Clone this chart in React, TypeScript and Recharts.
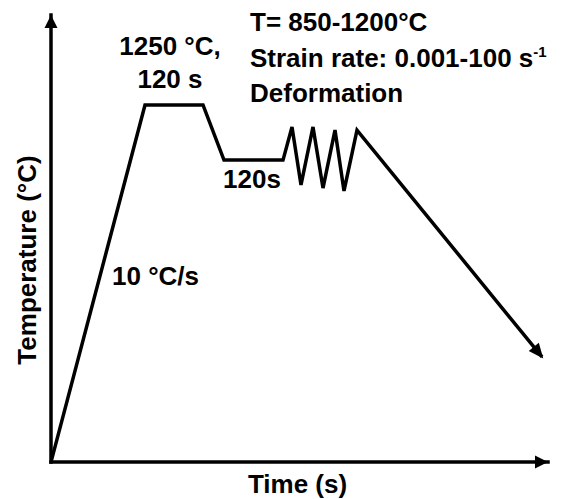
import { LineChart, Line, XAxis, YAxis, ReferenceDot } from "recharts";

// schematic thermal cycle, time in arbitrary units, temperature in °C
const timeSteps = [0, 94, 152, 173, 232, 241, 250, 262, 272, 284, 293, 306, 491];
const temperatures = [0, 1250, 1250, 1057, 1057, 1173, 970, 1173, 959, 1162, 949, 1162, 368];

const timeMax = 497;
const tempMax = 1565;

const conditionLines = ["T= 850-1200°C", "Strain rate: 0.001-100 s", "Deformation"];
const soakLines = ["1250 °C,", "120 s"];
const holdText = "120s";
const rateText = "10 °C/s";

const profile = timeSteps.map((t, i) => ({ t, temp: temperatures[i] }));

const FONT = '"Liberation Sans", Arial, sans-serif';
const textStyle = { fontFamily: FONT, fontWeight: 700, fontSize: 26, fill: "#000" };

const upArrow = (p: any) => (
	<path d={`M${p.cx},${p.cy} L${p.cx - 6.5},${p.cy + 13} L${p.cx + 6.5},${p.cy + 13} Z`} fill="#000" />
);

const rightArrow = (p: any) => (
	<path d={`M${p.cx},${p.cy} L${p.cx - 13},${p.cy - 6.5} L${p.cx - 13},${p.cy + 6.5} Z`} fill="#000" />
);

export default function App() {
	let prevPt: { x: number; y: number } | null = null;

	// arrow head on the last point of the cooling line
	const renderDot = (p: any) => {
		const pts = p.points;
		const prev = pts && pts[p.index - 1] ? { x: pts[p.index - 1].x, y: pts[p.index - 1].y } : prevPt;
		prevPt = { x: p.cx, y: p.cy };
		if (p.index !== profile.length - 1 || !prev) return <g key={`dot-${p.index}`} />;
		const ang = Math.atan2(p.cy - prev.y, p.cx - prev.x);
		const tipX = p.cx + 2 * Math.cos(ang);
		const tipY = p.cy + 2 * Math.sin(ang);
		const bx = tipX - 15 * Math.cos(ang);
		const by = tipY - 15 * Math.sin(ang);
		const nx = -Math.sin(ang) * 6.5;
		const ny = Math.cos(ang) * 6.5;
		return (
			<path
				key={`dot-${p.index}`}
				d={`M${tipX},${tipY} L${bx + nx},${by + ny} L${bx - nx},${by - ny} Z`}
				fill="#000"
			/>
		);
	};

	return (
		<div style={{ width: 563, height: 499, background: "#fff" }}>
			<style>{"body{margin:0}"}</style>
			<LineChart width={563} height={499} data={profile} margin={{ top: 15, right: 15, bottom: 0, left: 0 }}>
				<XAxis
					type="number"
					dataKey="t"
					domain={[0, timeMax]}
					allowDataOverflow
					height={37}
					tick={false}
					tickLine={false}
					axisLine={{ stroke: "#000", strokeWidth: 3.5, strokeLinecap: "square" }}
					label={{
						content: (props: any) => {
							const vb = props.viewBox;
							return (
								<text x={vb.x + 246.5} y={vb.y + 31} textAnchor="middle" style={textStyle}>
									Time (s)
								</text>
							);
						},
					}}
				/>
				<YAxis
					type="number"
					domain={[0, tempMax]}
					allowDataOverflow
					width={51}
					tick={false}
					tickLine={false}
					axisLine={{ stroke: "#000", strokeWidth: 3.5, strokeLinecap: "square" }}
					label={{
						content: (props: any) => {
							const vb = props.viewBox;
							const x = vb.x + 36;
							const y = vb.y + 245;
							return (
								<text x={x} y={y} textAnchor="middle" transform={`rotate(-90 ${x} ${y})`} style={textStyle}>
									Temperature (°C)
								</text>
							);
						},
					}}
				/>
				<Line
					type="linear"
					dataKey="temp"
					stroke="#000"
					strokeWidth={3.5}
					strokeLinejoin="miter"
					dot={renderDot}
					activeDot={false}
					isAnimationActive={false}
				/>
				<ReferenceDot x={0} y={tempMax} r={0} shape={upArrow} ifOverflow="visible" />
				<ReferenceDot x={timeMax} y={0} r={0} shape={rightArrow} ifOverflow="visible" />

				<text x={250} y={31} style={textStyle}>{conditionLines[0]}</text>
				<text x={250} y={67} style={textStyle}>
					{conditionLines[1]}
					<tspan dy={-10} fontSize={15}>-1</tspan>
				</text>
				<text x={250} y={102} style={textStyle}>{conditionLines[2]}</text>
				<text x={170} y={55} textAnchor="middle" style={textStyle}>{soakLines[0]}</text>
				<text x={170} y={88} textAnchor="middle" style={textStyle}>{soakLines[1]}</text>
				<text x={223} y={188} style={textStyle}>{holdText}</text>
				<text x={112} y={285} style={textStyle}>{rateText}</text>
			</LineChart>
		</div>
	);
}
